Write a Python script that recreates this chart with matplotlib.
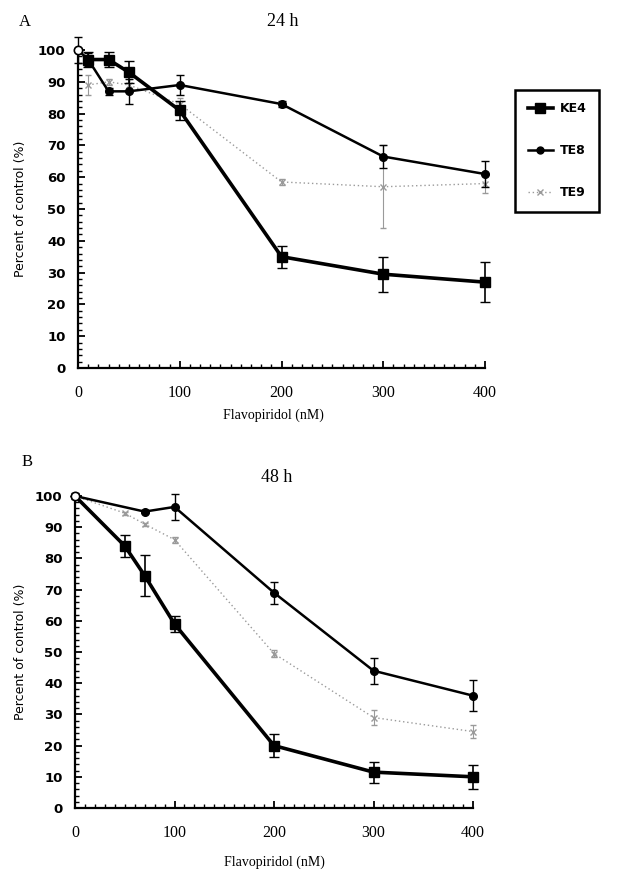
import matplotlib
matplotlib.use("Agg")
import matplotlib.pyplot as plt
import numpy as np
from matplotlib.ticker import MultipleLocator
from matplotlib.lines import Line2D

# 24 h panel
ke4_24_x = [10, 30, 50, 100, 200, 300, 400]
ke4_24 = [97, 97, 93, 81, 35, 29.5, 27]
ke4_24_err = [2.5, 2.5, 3.5, 3, 3.5, 5.5, 6.3]
te8_24_x = [0, 10, 30, 50, 100, 200, 300, 400]
te8_24 = [100, 97, 87, 87, 89, 83, 66.5, 61]
te8_24_err = [4, 2, 1, 4, 3, 1, 3.5, 4]
te9_24_x = [10, 30, 50, 100, 200, 300, 400]
te9_24 = [89, 90, 89, 83, 58.5, 57, 58]
te9_24_err = [3, 1, 2, 2, 1, 13, 3]

# 48 h panel
ke4_48_x = [0, 50, 70, 100, 200, 300, 400]
ke4_48 = [100, 84, 74.5, 59, 20, 11.5, 10]
ke4_48_err = [0, 3.4, 6.5, 2.5, 3.7, 3.4, 3.8]
te8_48_x = [0, 70, 100, 200, 300, 400]
te8_48 = [100, 95, 96.5, 69, 44, 36]
te8_48_err = [1, 0.5, 4.2, 3.5, 4.2, 5]
te9_48_x = [0, 50, 70, 100, 200, 300, 400]
te9_48 = [100, 94.5, 91, 86, 49.5, 29, 24.5]
te9_48_err = [0, 0.5, 0.5, 1, 1, 2.5, 2]

xticks = [0, 100, 200, 300, 400]
yticks = [0, 10, 20, 30, 40, 50, 60, 70, 80, 90, 100]

serif = "Liberation Serif"
sans = "DejaVu Sans"

fig = plt.figure(figsize=(6.23, 8.75), dpi=100)
W, H = 623.0, 875.0

def rect(x0, x1, y0, y1):
    return [x0 / W, 1 - y0 / H, (x1 - x0) / W, (y0 - y1) / H]

axA = fig.add_axes(rect(78, 485, 368, 50))
axB = fig.add_axes(rect(75, 473, 808, 496))

def draw(ax, k_x, k_y, k_e, t8_x, t8_y, t8_e, t9_x, t9_y, t9_e, k_skip):
    ax.errorbar(t9_x, t9_y, yerr=t9_e, color="#9a9a9a", lw=1.0, ls=(0, (1, 2)),
                marker="x", ms=4, mew=1, capsize=2.5, elinewidth=0.8, clip_on=False, zorder=2)
    ax.errorbar(t8_x, t8_y, yerr=t8_e, color="black", lw=1.8, marker="o", ms=5.5,
                mfc="black", capsize=3, elinewidth=1, clip_on=False, zorder=3)
    ax.plot(t8_x[0], t8_y[0], "o", ms=6, mfc="white", mec="black", mew=1.2, clip_on=False, zorder=5)
    ax.errorbar(k_x, k_y, yerr=k_e, color="black", lw=2.6, marker="s", ms=7.5,
                markevery=list(range(k_skip, len(k_x))), capsize=3.5, elinewidth=1.2,
                clip_on=False, zorder=4)
    ax.set_xlim(0, 400)
    ax.set_ylim(0, 100)
    ax.set_xticks(xticks)
    ax.set_yticks(yticks)
    ax.xaxis.set_minor_locator(MultipleLocator(10))
    ax.yaxis.set_minor_locator(MultipleLocator(2))
    for s in ["top", "right"]:
        ax.spines[s].set_visible(False)
    for s in ["left", "bottom"]:
        ax.spines[s].set_linewidth(1.6)
    ax.tick_params(which="major", direction="in", length=5, width=1.3)
    ax.tick_params(which="minor", direction="in", length=3, width=1)
    ax.tick_params(axis="x", pad=12)
    ax.tick_params(axis="y", pad=9)
    for t in ax.get_yticklabels():
        t.set_fontfamily(sans)
        t.set_fontweight("bold")
        t.set_fontsize(9.5)
    for t in ax.get_xticklabels():
        t.set_fontfamily(serif)
        t.set_fontsize(11.5)
    ax.set_ylabel("Percent of control (%)", fontfamily=sans, fontsize=9)
    ax.set_xlabel("Flavopiridol (nM)", fontfamily=serif, fontsize=10)

draw(axA, ke4_24_x, ke4_24, ke4_24_err, te8_24_x, te8_24, te8_24_err,
     te9_24_x, te9_24, te9_24_err, 0)
draw(axB, ke4_48_x, ke4_48, ke4_48_err, te8_48_x, te8_48, te8_48_err,
     te9_48_x, te9_48, te9_48_err, 1)

axA.yaxis.set_label_coords(-0.125, 0.5)
axA.xaxis.set_label_coords(0.48, -0.128)
axB.yaxis.set_label_coords(-0.12, 0.5)
axB.xaxis.set_label_coords(0.50, -0.152)

fig.text(25 / W, 1 - 22 / H, "A", fontfamily=serif, fontsize=12, ha="center", va="center")
fig.text(283 / W, 1 - 22 / H, "24 h", fontfamily=serif, fontsize=13, ha="center", va="center")
fig.text(27 / W, 1 - 462 / H, "B", fontfamily=serif, fontsize=12, ha="center", va="center")
fig.text(277 / W, 1 - 477 / H, "48 h", fontfamily=serif, fontsize=13, ha="center", va="center")

handles = [
    Line2D([], [], color="black", lw=2.6, marker="s", ms=7),
    Line2D([], [], color="black", lw=1.8, marker="o", ms=5),
    Line2D([], [], color="#9a9a9a", lw=1.0, ls=(0, (1, 2)), marker="x", ms=4),
]
leg = fig.legend(handles, ["KE4", "TE8", "TE9"], loc="upper left",
                 bbox_to_anchor=(515 / W, 1 - 90 / H), borderaxespad=0,
                 fancybox=False, edgecolor="black", framealpha=1,
                 handlelength=2.0, labelspacing=2.3, borderpad=1.0,
                 handletextpad=0.6,
                 prop={"family": sans, "weight": "bold", "size": 9})
leg.get_frame().set_linewidth(1.8)

fig.savefig("out.png", dpi=100)
